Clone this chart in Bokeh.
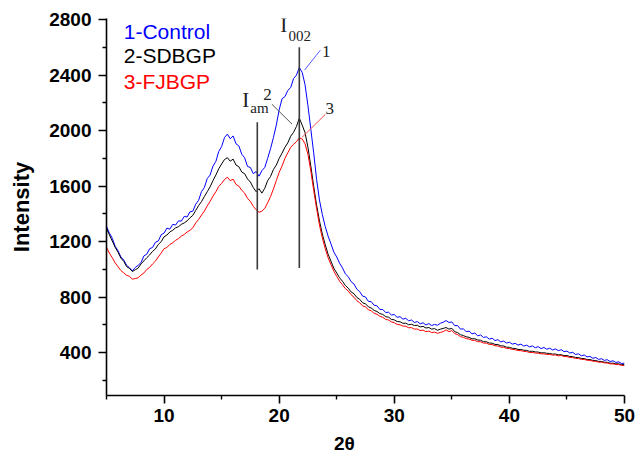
import numpy as np
from bokeh.plotting import figure
from bokeh.models import Range1d, FixedTicker, Label
from bokeh.embed import file_html
from bokeh.resources import INLINE

# ---- data, 2θ from 5 to 50 in steps of 0.25 ----
two_theta = np.linspace(5.0, 50.0, 181)

# each row: values at d, d+0.25, d+0.5, d+0.75
control = [
    1310, 1262, 1225, 1168,   # 5
    1135, 1090, 1068, 1030,   # 6
    1012, 990, 1015, 1030,    # 7
    1050, 1098, 1110, 1150,   # 8
    1158, 1196, 1205, 1250,   # 9
    1262, 1298, 1290, 1325,   # 10
    1320, 1350, 1348, 1382,   # 11
    1378, 1415, 1420, 1470,   # 12
    1498, 1560, 1590, 1655,   # 13
    1680, 1745, 1778, 1850,   # 14
    1885, 1950, 1975, 1942,   # 15
    1962, 1905, 1890, 1830,   # 16
    1805, 1742, 1735, 1690,   # 17
    1705, 1672, 1712, 1735,   # 18
    1800, 1870, 1950, 2040,   # 19
    2150, 2230, 2245, 2290,   # 20
    2310, 2375, 2400, 2455,   # 21
    2420, 2330, 2180, 2010,   # 22
    1840, 1650, 1500, 1395,   # 23
    1310, 1240, 1185, 1125,   # 24
    1090, 1045, 1012, 968,    # 25
    948, 912, 895, 858,       # 26
    840, 808, 802, 770,       # 27
    768, 742, 738, 712,       # 28
    712, 690, 692, 672,       # 29
    675, 655, 660, 642,       # 30
    648, 630, 636, 618,       # 31
    625, 608, 616, 600,       # 32
    610, 596, 604, 598,       # 33
    612, 620, 632, 618,       # 34
    622, 595, 596, 570,       # 35
    572, 552, 556, 536,       # 36
    542, 522, 528, 510,       # 37
    515, 498, 505, 488,       # 38
    494, 478, 484, 470,       # 39
    476, 462, 468, 455,       # 40
    462, 448, 455, 442,       # 41
    449, 436, 444, 430,       # 42
    438, 425, 433, 420,       # 43
    428, 415, 422, 408,       # 44
    412, 398, 403, 388,       # 45
    392, 378, 384, 370,       # 46
    374, 360, 366, 352,       # 47
    357, 345, 350, 337,       # 48
    342, 330, 334, 322,       # 49
    326]                      # 50

sdbgp = [
    1295, 1250, 1205, 1160,   # 5
    1125, 1082, 1058, 1020,   # 6
    1008, 985, 998, 1010,     # 7
    1040, 1062, 1085, 1105,   # 8
    1130, 1148, 1180, 1200,   # 9
    1235, 1248, 1270, 1282,   # 10
    1300, 1308, 1325, 1335,   # 11
    1350, 1372, 1390, 1425,   # 12
    1460, 1488, 1525, 1560,   # 13
    1595, 1640, 1680, 1725,   # 14
    1760, 1792, 1805, 1780,   # 15
    1795, 1752, 1740, 1702,   # 16
    1690, 1652, 1630, 1590,   # 17
    1560, 1582, 1550, 1585,   # 18
    1640, 1670, 1720, 1752,   # 19
    1800, 1838, 1880, 1912,   # 20
    1960, 1988, 2030, 2090,   # 21
    2040, 1985, 1880, 1745,   # 22
    1600, 1465, 1350, 1255,   # 23
    1180, 1110, 1060, 1008,   # 24
    975, 940, 915, 885,       # 25
    865, 838, 825, 798,       # 26
    785, 760, 752, 732,       # 27
    722, 705, 697, 682,       # 28
    676, 660, 656, 640,       # 29
    637, 625, 623, 612,       # 30
    613, 602, 605, 596,       # 31
    598, 586, 590, 578,       # 32
    582, 570, 574, 562,       # 33
    570, 575, 582, 570,       # 34
    576, 552, 545, 530,       # 35
    524, 515, 511, 500,       # 36
    501, 492, 490, 480,       # 37
    479, 470, 469, 460,       # 38
    459, 450, 449, 440,       # 39
    439, 432, 431, 424,       # 40
    423, 418, 417, 410,       # 41
    411, 406, 405, 399,       # 42
    400, 396, 395, 390,       # 43
    391, 385, 386, 379,       # 44
    380, 373, 372, 366,       # 45
    365, 359, 358, 351,       # 46
    351, 345, 344, 338,       # 47
    337, 332, 331, 325,       # 48
    325, 320, 320, 314,       # 49
    315]                      # 50

fjbgp = [
    1160, 1118, 1085, 1048,   # 5
    1020, 992, 975, 958,      # 6
    950, 930, 935, 940,       # 7
    960, 975, 1000, 1015,     # 8
    1040, 1060, 1090, 1118,   # 9
    1150, 1158, 1180, 1192,   # 10
    1210, 1222, 1240, 1252,   # 11
    1270, 1282, 1300, 1335,   # 12
    1360, 1392, 1420, 1458,   # 13
    1490, 1528, 1560, 1598,   # 14
    1620, 1648, 1665, 1640,   # 15
    1650, 1612, 1600, 1570,   # 16
    1550, 1512, 1490, 1455,   # 17
    1430, 1412, 1420, 1440,   # 18
    1480, 1525, 1580, 1640,   # 19
    1700, 1745, 1800, 1840,   # 20
    1880, 1902, 1920, 1948,   # 21
    1940, 1905, 1830, 1710,   # 22
    1570, 1440, 1320, 1228,   # 23
    1150, 1085, 1035, 988,    # 24
    950, 915, 890, 862,       # 25
    845, 818, 800, 775,       # 26
    760, 738, 730, 710,       # 27
    702, 684, 677, 662,       # 28
    656, 640, 636, 622,       # 29
    617, 604, 602, 592,       # 30
    591, 580, 581, 570,       # 31
    571, 560, 563, 552,       # 32
    556, 545, 549, 540,       # 33
    546, 552, 565, 552,       # 34
    560, 538, 531, 516,       # 35
    511, 502, 499, 490,       # 36
    489, 480, 479, 470,       # 37
    469, 460, 459, 450,       # 38
    449, 440, 439, 432,       # 39
    430, 424, 422, 416,       # 40
    415, 410, 408, 402,       # 41
    402, 398, 397, 392,       # 42
    392, 388, 388, 383,       # 43
    384, 378, 380, 373,       # 44
    372, 366, 365, 359,       # 45
    358, 352, 352, 346,       # 46
    345, 339, 338, 332,       # 47
    332, 327, 326, 320,       # 48
    320, 315, 315, 309,       # 49
    308]                      # 50

series_names = ["1-Control", "2-SDBGP", "3-FJBGP"]
series_colors = ["#0000FF", "#000000", "#FF0000"]

x_major = [10, 20, 30, 40, 50]
x_minor = [5, 15, 25, 35, 45]
y_major = [400, 800, 1200, 1600, 2000, 2400, 2800]
y_minor = [200, 600, 1000, 1400, 1800, 2200, 2600]

# reference lines (I_am, I_002)
ref_x = [18.1, 21.75]
ref_y0 = [1000, 1010]
ref_y1 = [2060, 2600]

# ---- figure ----
p = figure(width=635, height=456, output_backend="svg", toolbar_location=None,
           x_range=Range1d(5, 50), y_range=Range1d(92, 2808),
           min_border_left=106, min_border_right=11, min_border_top=18, min_border_bottom=56)
p.outline_line_color = None
p.xgrid.visible = False
p.ygrid.visible = False
p.background_fill_color = "white"
p.border_fill_color = "white"

for ys, c in zip([control, sdbgp, fjbgp], series_colors):
    p.line(two_theta[:len(ys)], ys, line_color=c, line_width=1)

p.segment(x0=ref_x, y0=ref_y0, x1=ref_x, y1=ref_y1, line_color="#3a3a3a", line_width=1.6)

# leader lines
p.segment(x0=[22.21], y0=[2437], x1=[23.58], y1=[2580], line_color="#5a5aff", line_width=1)
p.segment(x0=[19.38], y0=[2189], x1=[21.12], y1=[2047], line_color="#555555", line_width=1)
p.segment(x0=[24.02], y0=[2118], x1=[21.99], y1=[1952], line_color="#ff5050", line_width=1)

for ax in (p.xaxis[0], p.yaxis[0]):
    ax.axis_line_width = 1.6
    ax.major_tick_line_width = 1.6
    ax.minor_tick_line_width = 1.4
    ax.major_tick_in = 0
    ax.major_tick_out = 8
    ax.minor_tick_in = 0
    ax.minor_tick_out = 4
    ax.major_label_text_font = "Liberation Sans"
    ax.major_label_text_font_style = "bold"
    ax.major_label_text_font_size = "19px"
    ax.major_label_text_color = "black"
    ax.axis_label_text_font = "Liberation Sans"
    ax.axis_label_text_font_style = "bold"
    ax.axis_label_text_color = "black"

p.xaxis.ticker = FixedTicker(ticks=x_major, minor_ticks=x_minor)
p.yaxis.ticker = FixedTicker(ticks=y_major, minor_ticks=y_minor)
p.xaxis.major_label_standoff = 5
p.yaxis.major_label_standoff = 7

p.yaxis.axis_label = "Intensity"
p.yaxis.axis_label_text_font_size = "22px"
p.yaxis.axis_label_standoff = 12

p.xaxis.axis_label = "2θ" + "\u00a0" * 8
p.xaxis.axis_label_text_font_size = "19px"
p.xaxis.axis_label_standoff = 8

# legend texts
legend_y = [2716, 2538, 2353]
for name, c, ly in zip(series_names, series_colors, legend_y):
    p.add_layout(Label(x=6.5, y=ly, text=name, text_color=c, text_font="Liberation Sans",
                       text_font_size="21px", text_baseline="middle", text_align="left"))

# peak annotations
serif = "Liberation Serif"
p.add_layout(Label(x=16.79, y=2132, text="I", text_font=serif, text_font_size="21px", text_color="#222222"))
p.add_layout(Label(x=17.49, y=2104, text="am", text_font=serif, text_font_size="15px", text_color="#222222"))
p.add_layout(Label(x=20.1, y=2672, text="I", text_font=serif, text_font_size="21px", text_color="#222222"))
p.add_layout(Label(x=20.8, y=2644, text="002", text_font=serif, text_font_size="15px", text_color="#222222"))
p.add_layout(Label(x=23.73, y=2530, text="1", text_font=serif, text_font_size="17px", text_color="#222222"))
p.add_layout(Label(x=18.62, y=2224, text="2", text_font=serif, text_font_size="17px", text_color="#222222"))
p.add_layout(Label(x=24.02, y=2118, text="3", text_font=serif, text_font_size="17px", text_color="#222222"))

open("out.html", "w").write(file_html(p, INLINE))
